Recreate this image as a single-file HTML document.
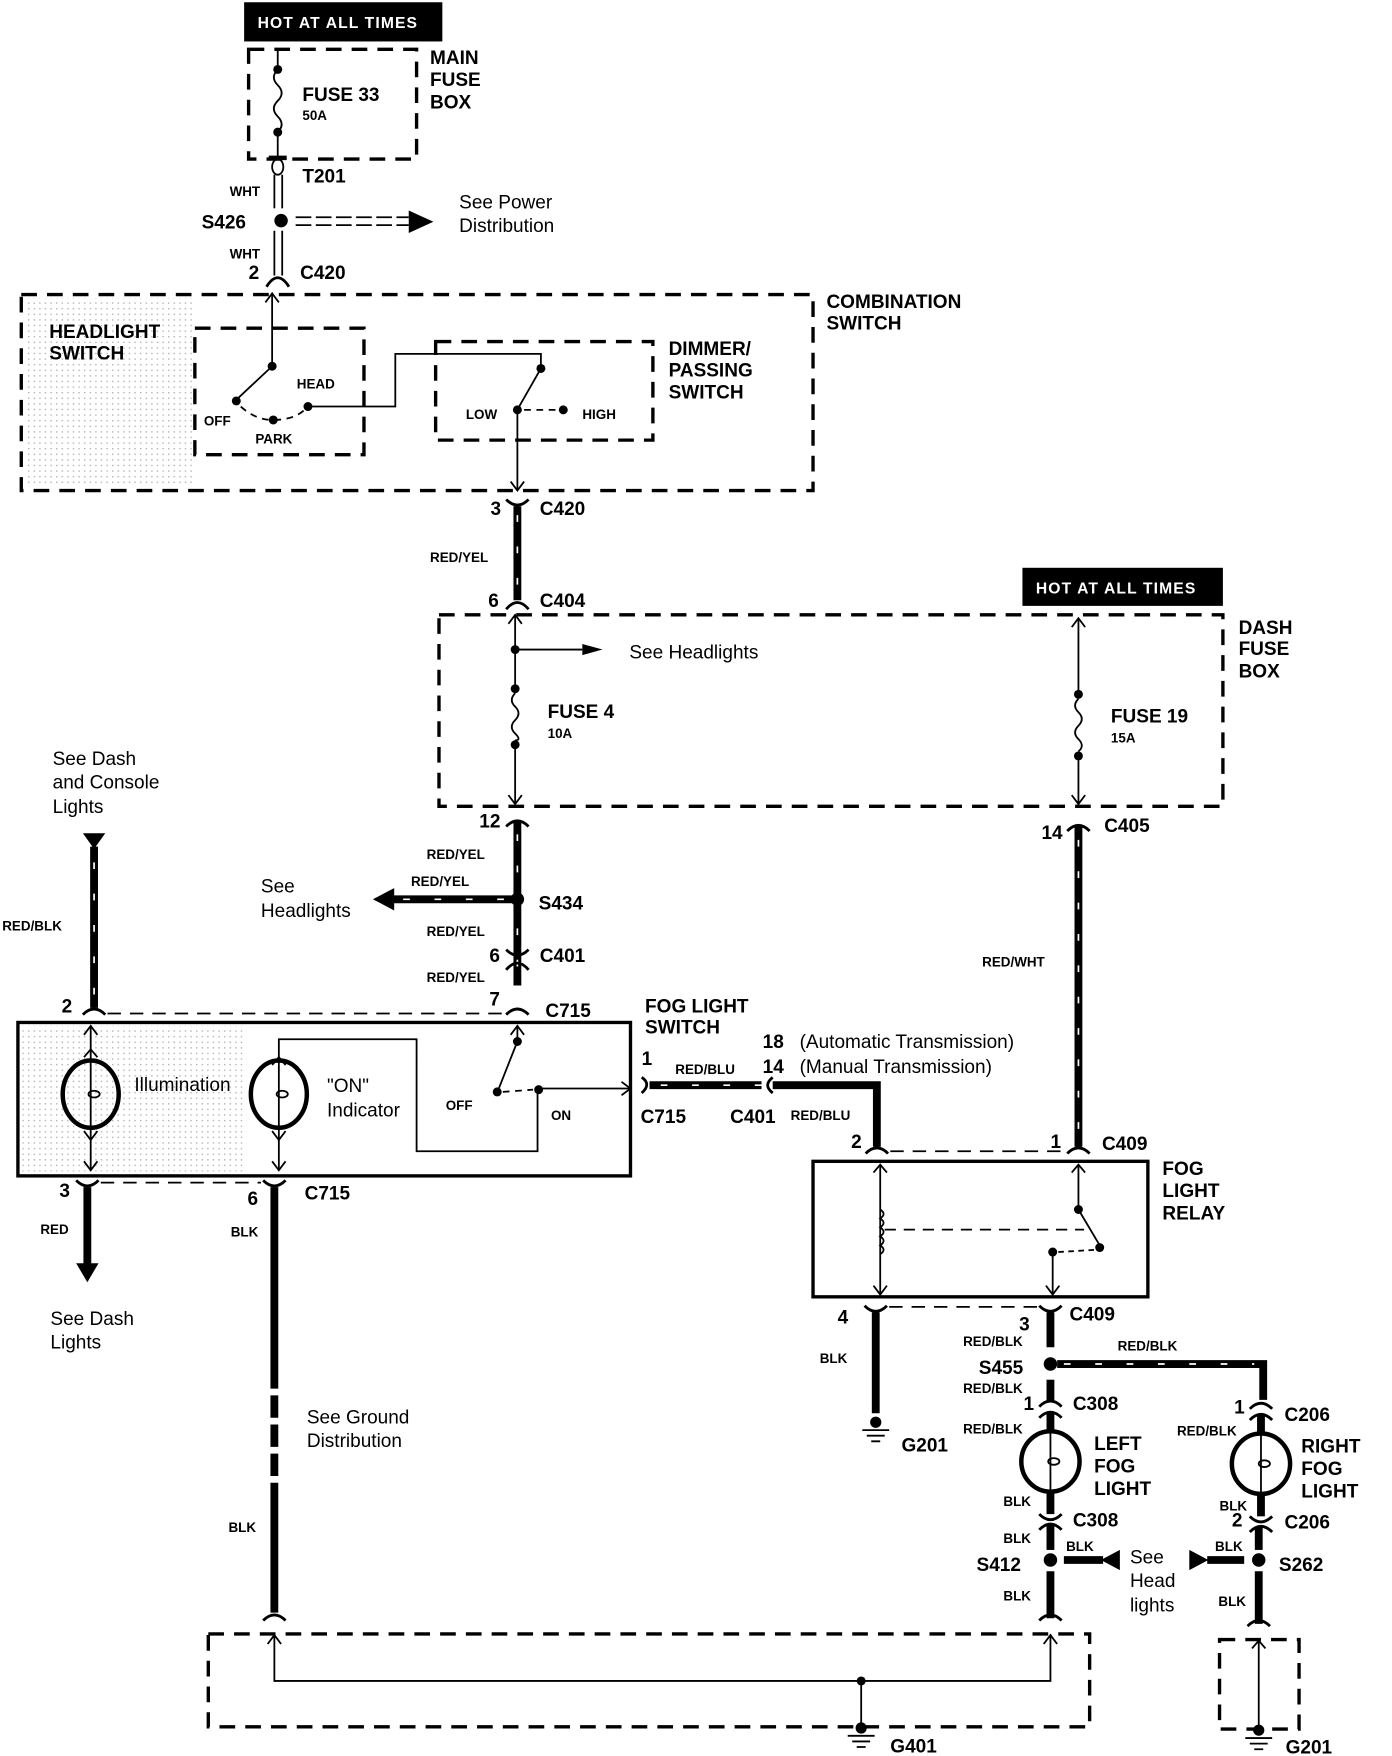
<!DOCTYPE html>
<html><head><meta charset="utf-8"><style>
html,body{margin:0;padding:0;background:#fff;}
svg{display:block;}
text{font-family:"Liberation Sans",sans-serif;fill:#000;}
.b{font-weight:bold;font-size:17px;}
.s{font-weight:bold;font-size:12px;}
.r{font-size:17px;}
.w{fill:#fff;font-weight:bold;font-size:14px;letter-spacing:1px;}
.d{fill:none;stroke:#000;stroke-width:3;stroke-dasharray:14,9;}
.t{fill:none;stroke:#000;stroke-width:1.6;}
.k{fill:none;stroke:#000;stroke-width:7;}
.m{fill:none;stroke:#fff;stroke-width:1.5;stroke-dasharray:6,22;}
.f{fill:none;stroke:#000;stroke-width:2.5;}
</style></head><body>
<svg width="1392" height="1756" viewBox="0 0 1243 1568" xmlns="http://www.w3.org/2000/svg">
<defs>
<pattern id="dots" width="5" height="5" patternUnits="userSpaceOnUse"><rect width="1.3" height="1.3" fill="#888"/></pattern>
</defs>
<!-- shading -->
<rect x="22" y="266" width="150" height="168" fill="url(#dots)" opacity="0.6"/>
<rect x="20" y="916" width="200" height="130" fill="url(#dots)" opacity="0.6"/>

<!-- HOT AT ALL TIMES 1 -->
<rect x="218" y="2" width="177" height="35" fill="#000"/>
<text x="230" y="25" class="w">HOT AT ALL TIMES</text>
<rect x="222" y="44" width="150" height="98" class="d"/>
<text x="384" y="57" class="b">MAIN</text><text x="384" y="77" class="b">FUSE</text><text x="384" y="97" class="b">BOX</text>
<line x1="248" y1="44" x2="248" y2="62" class="t"/>
<circle cx="248" cy="62" r="4"/><circle cx="248" cy="118" r="4"/>
<path d="M248 62 q-7 7 0 14 q7 7 0 14 q-7 7 0 14 q7 7 0 14" class="t"/>
<line x1="248" y1="118" x2="248" y2="140" class="t"/>
<line x1="240" y1="141" x2="256" y2="141" stroke="#000" stroke-width="4"/>
<text x="270" y="90" class="b">FUSE 33</text><text x="270" y="107" class="s">50A</text>
<ellipse cx="248" cy="149" rx="5" ry="7" class="t"/>
<line x1="245" y1="156" x2="245" y2="186" class="t"/><line x1="252" y1="156" x2="252" y2="186" class="t"/>
<text x="270" y="163" class="b">T201</text>
<text x="205" y="175" class="s">WHT</text>
<circle cx="251" cy="197" r="6"/>
<text x="180" y="204" class="b">S426</text>
<line x1="264" y1="194" x2="365" y2="194" class="t" stroke-dasharray="14,4"/>
<line x1="264" y1="201" x2="365" y2="201" class="t" stroke-dasharray="14,4"/>
<polygon points="365,188 387,198 365,208"/>
<text x="410" y="186" class="r">See Power</text><text x="410" y="207" class="r">Distribution</text>
<line x1="245" y1="206" x2="245" y2="246" class="t"/><line x1="252" y1="206" x2="252" y2="246" class="t"/>
<text x="205" y="231" class="s">WHT</text>
<text x="222" y="249" class="b">2</text><text x="268" y="249" class="b">C420</text>
<path d="M238 256 Q243 248 248 248 Q253 248 258 256" class="f"/>

<!-- Combination switch -->
<rect x="19" y="263" width="707" height="175" class="d"/>
<text x="738" y="275" class="b">COMBINATION</text><text x="738" y="294" class="b">SWITCH</text>
<text x="44" y="302" class="b">HEADLIGHT</text><text x="44" y="321" class="b">SWITCH</text>
<rect x="174" y="293" width="151" height="113" class="d"/>
<line x1="243" y1="262" x2="243" y2="326" class="t"/>
<path d="M237 270 L243 262 L249 270" class="t"/>
<circle cx="243" cy="327" r="4"/>
<line x1="243" y1="327" x2="211" y2="357" class="t" stroke-width="2"/>
<circle cx="211" cy="358" r="4"/><circle cx="244" cy="375" r="4"/><circle cx="275" cy="363" r="4"/>
<path d="M215 363 Q228 375 244 375 Q262 375 272 366" class="t" stroke-dasharray="6,5"/>
<text x="182" y="380" class="s" font-size="13">OFF</text><text x="228" y="396" class="s" font-size="13">PARK</text><text x="265" y="347" class="s" font-size="13">HEAD</text>
<polyline points="275,363 353,363 353,316 483,316 483,328" class="t"/>
<rect x="389" y="305" width="194" height="88" class="d"/>
<circle cx="483" cy="329" r="4"/>
<line x1="483" y1="329" x2="463" y2="364" class="t" stroke-width="2"/>
<circle cx="462" cy="366" r="4"/><circle cx="503" cy="366" r="4"/>
<line x1="468" y1="366" x2="498" y2="366" class="t" stroke-dasharray="6,5"/>
<text x="416" y="374" class="s" font-size="13">LOW</text><text x="520" y="374" class="s" font-size="13">HIGH</text>
<text x="597" y="317" class="b">DIMMER/</text><text x="597" y="336" class="b">PASSING</text><text x="597" y="356" class="b">SWITCH</text>
<line x1="462" y1="366" x2="462" y2="437" class="t"/>
<path d="M456 430 L462 438 L468 430" class="t"/>

<!-- C420 -> C404 -->
<path d="M452 446 Q462 456 472 446" class="f"/>
<text x="438" y="460" class="b">3</text><text x="482" y="460" class="b">C420</text>
<line x1="462" y1="452" x2="462" y2="536" class="k"/><line x1="462" y1="460" x2="462" y2="536" class="m"/>
<text x="384" y="502" class="s">RED/YEL</text>
<path d="M452 544 Q462 532 472 544" class="f"/>
<text x="436" y="542" class="b">6</text><text x="482" y="542" class="b">C404</text>

<!-- Dash fuse box -->
<rect x="913" y="507" width="179" height="34" fill="#000"/>
<text x="925" y="530" class="w">HOT AT ALL TIMES</text>
<rect x="392" y="549" width="700" height="171" class="d"/>
<text x="1106" y="566" class="b">DASH</text><text x="1106" y="585" class="b">FUSE</text><text x="1106" y="605" class="b">BOX</text>
<line x1="460" y1="550" x2="460" y2="717" class="t"/>
<path d="M454 557 L460 549 L466 557" class="t"/>
<circle cx="460" cy="580" r="4"/>
<line x1="460" y1="580" x2="520" y2="580" class="t"/><polygon points="520,575 538,580 520,585"/>
<text x="562" y="588" class="r">See Headlights</text>
<circle cx="460" cy="615" r="4"/><circle cx="460" cy="665" r="4"/>
<rect x="454" y="619" width="12" height="42" fill="#fff"/>
<path d="M460 619 q-6 6 0 12 q6 6 0 12 q-6 6 0 12 q6 6 0 6" class="t"/>
<text x="489" y="641" class="b">FUSE 4</text><text x="489" y="659" class="s">10A</text>
<path d="M454 710 L460 718 L466 710" class="t"/>
<line x1="963" y1="552" x2="963" y2="717" class="t"/>
<path d="M957 560 L963 552 L969 560" class="t"/>
<path d="M957 710 L963 718 L969 710" class="t"/>
<circle cx="963" cy="620" r="4"/><circle cx="963" cy="675" r="4"/>
<rect x="957" y="624" width="12" height="47" fill="#fff"/>
<path d="M963 624 q-6 6 0 12 q6 6 0 12 q-6 6 0 12 q6 6 0 11" class="t"/>
<text x="992" y="645" class="b">FUSE 19</text><text x="992" y="663" class="s">15A</text>

<!-- Center wire down -->
<path d="M452 738 Q462 728 472 738" class="f"/>
<text x="428" y="739" class="b">12</text>
<line x1="462" y1="734" x2="462" y2="880" class="k"/><line x1="462" y1="745" x2="462" y2="880" class="m"/>
<text x="381" y="767" class="s">RED/YEL</text>
<text x="367" y="791" class="s">RED/YEL</text>
<line x1="350" y1="803" x2="462" y2="803" class="k"/><line x1="360" y1="803" x2="460" y2="803" class="m"/>
<polygon points="352,793 333,803 352,813"/>
<circle cx="462" cy="803" r="6"/>
<text x="481" y="812" class="b">S434</text>
<text x="233" y="797" class="r">See</text><text x="233" y="819" class="r">Headlights</text>
<text x="381" y="836" class="s">RED/YEL</text>
<path d="M452 848 Q462 858 472 848" class="f"/><path d="M452 866 Q462 854 472 866" class="f"/>
<text x="437" y="859" class="b">6</text><text x="482" y="859" class="b">C401</text>
<text x="381" y="877" class="s">RED/YEL</text>
<text x="437" y="898" class="b">7</text><text x="487" y="908" class="b">C715</text>
<path d="M452 906 Q462 896 472 906" class="f"/>

<!-- Right wire C405 -->
<path d="M953 742 Q963 732 973 742" class="f"/>
<text x="930" y="749" class="b">14</text><text x="986" y="743" class="b">C405</text>
<line x1="963" y1="738" x2="963" y2="1024" class="k"/><line x1="963" y1="750" x2="963" y2="1024" class="m"/>
<text x="877" y="863" class="s">RED/WHT</text>

<!-- Left wire -->
<text x="47" y="683" class="r">See Dash</text><text x="47" y="704" class="r">and Console</text><text x="47" y="726" class="r">Lights</text>
<polygon points="74,744 94,744 84,758"/>
<line x1="84" y1="756" x2="84" y2="900" class="k"/><line x1="84" y1="770" x2="84" y2="900" class="m"/>
<text x="2" y="831" class="s">RED/BLK</text>
<text x="55" y="904" class="b">2</text>
<path d="M74 906 Q84 896 94 906" class="f"/>
<line x1="96" y1="905" x2="452" y2="905" class="t" stroke-dasharray="12,8"/>

<!-- Fog switch box -->
<rect x="16" y="913" width="547" height="137" fill="none" stroke="#000" stroke-width="3"/>
<ellipse cx="81" cy="977" rx="25" ry="30" fill="none" stroke="#000" stroke-width="4"/>
<line x1="81" y1="916" x2="81" y2="1045" class="t"/>
<path d="M75 924 L81 916 L87 924 M75 944 L81 937 L87 944 M75 1010 L81 1018 L87 1010 M75 1037 L81 1045 L87 1037" class="t"/>
<ellipse cx="84" cy="977" rx="5" ry="3" class="t"/>
<text x="120" y="974" class="r">Illumination</text>
<ellipse cx="249" cy="977" rx="25" ry="30" fill="none" stroke="#000" stroke-width="4"/>
<polyline points="249,944 249,928 372,928 372,1028 480,1028 480,972" class="t"/>
<line x1="249" y1="944" x2="249" y2="1045" class="t"/>
<path d="M243 951 L249 944 L255 951 M243 1010 L249 1018 L255 1010 M243 1037 L249 1045 L255 1037" class="t"/>
<ellipse cx="252" cy="977" rx="5" ry="3" class="t"/>
<text x="292" y="975" class="r">"ON"</text><text x="292" y="997" class="r">Indicator</text>
<line x1="462" y1="916" x2="462" y2="928" class="t"/>
<path d="M456 924 L462 916 L468 924" class="t"/>
<circle cx="462" cy="930" r="4"/>
<line x1="462" y1="930" x2="445" y2="973" class="t" stroke-width="2"/>
<circle cx="444" cy="975" r="4"/><circle cx="481" cy="973" r="4"/>
<line x1="449" y1="975" x2="476" y2="973" class="t" stroke-dasharray="6,5"/>
<line x1="481" y1="972" x2="562" y2="972" class="t"/>
<path d="M555 966 L563 972 L555 978" class="t"/>
<text x="398" y="991" class="s" font-size="13">OFF</text><text x="492" y="1000" class="s" font-size="13">ON</text>

<!-- Fog switch side -->
<text x="576" y="904" class="b">FOG LIGHT</text><text x="576" y="923" class="b">SWITCH</text>
<text x="573" y="951" class="b">1</text><text x="603" y="959" class="s">RED/BLU</text>
<path d="M573 962 Q582 968 573 976" class="f"/>
<line x1="580" y1="969" x2="680" y2="969" class="k"/><line x1="590" y1="969" x2="680" y2="969" class="m"/>
<path d="M690 962 Q681 969 690 976" class="f"/>
<text x="572" y="1003" class="b">C715</text><text x="652" y="1003" class="b">C401</text>
<text x="681" y="936" class="b">18</text><text x="714" y="936" class="r">(Automatic Transmission)</text>
<text x="681" y="958" class="b">14</text><text x="714" y="958" class="r">(Manual Transmission)</text>
<polyline points="690,969 783,969 783,1024" class="k"/>
<text x="706" y="1000" class="s">RED/BLU</text>
<text x="760" y="1025" class="b">2</text><text x="938" y="1025" class="b">1</text><text x="984" y="1027" class="b">C409</text>
<path d="M773 1030 Q783 1020 793 1030" class="f"/><path d="M953 1030 Q963 1020 973 1030" class="f"/>
<line x1="795" y1="1028" x2="951" y2="1028" class="t" stroke-dasharray="12,8"/>

<!-- Relay -->
<rect x="726" y="1037" width="299" height="121" fill="none" stroke="#000" stroke-width="3"/>
<text x="1038" y="1049" class="b">FOG</text><text x="1038" y="1069" class="b">LIGHT</text><text x="1038" y="1089" class="b">RELAY</text>
<line x1="786" y1="1040" x2="786" y2="1156" class="t"/>
<path d="M780 1047 L786 1040 L792 1047 M780 1148 L786 1156 L792 1148" class="t"/>
<path d="M786 1080 q6 4 0 8 q6 4 0 8 q6 4 0 8 q6 4 0 8 q6 4 0 8" class="t"/>
<line x1="790" y1="1098" x2="968" y2="1098" class="t" stroke-dasharray="10,7"/>
<line x1="963" y1="1040" x2="963" y2="1078" class="t"/>
<path d="M957 1047 L963 1040 L969 1047" class="t"/>
<circle cx="963" cy="1080" r="4"/>
<line x1="963" y1="1080" x2="982" y2="1112" class="t" stroke-width="2"/>
<circle cx="982" cy="1114" r="4"/>
<circle cx="940" cy="1118" r="4"/>
<line x1="945" y1="1118" x2="978" y2="1116" class="t" stroke-dasharray="5,4"/>
<line x1="940" y1="1118" x2="940" y2="1156" class="t"/>
<path d="M934 1148 L940 1156 L946 1148" class="t"/>

<!-- relay outputs -->
<path d="M772 1166 Q782 1176 792 1166" class="f"/><path d="M928 1166 Q938 1176 948 1166" class="f"/>
<line x1="794" y1="1167" x2="926" y2="1167" class="t" stroke-dasharray="12,8"/>
<text x="748" y="1182" class="b">4</text><text x="910" y="1188" class="b">3</text><text x="955" y="1179" class="b">C409</text>
<line x1="782" y1="1172" x2="782" y2="1262" class="k"/>
<text x="732" y="1217" class="s">BLK</text>
<circle cx="782" cy="1270" r="5"/>
<path d="M770 1277 H794 M774 1282 H790 M778 1287 H786" class="t"/>
<text x="805" y="1296" class="b">G201</text>
<line x1="938" y1="1172" x2="938" y2="1203" class="k"/>
<text x="860" y="1202" class="s">RED/BLK</text>
<circle cx="938" cy="1218" r="6"/>
<text x="874" y="1227" class="b">S455</text>
<text x="998" y="1206" class="s">RED/BLK</text>
<polyline points="944,1218 1128,1218 1128,1250" class="k"/><line x1="950" y1="1218" x2="1120" y2="1218" class="m"/>
<text x="860" y="1244" class="s">RED/BLK</text>
<line x1="938" y1="1232" x2="938" y2="1252" class="k"/>
<path d="M928 1256 Q938 1246 948 1256 M928 1266 Q938 1256 948 1266" class="f"/>
<text x="914" y="1259" class="b">1</text><text x="958" y="1259" class="b">C308</text>
<text x="860" y="1280" class="s">RED/BLK</text>
<line x1="938" y1="1262" x2="938" y2="1278" class="k"/>
<ellipse cx="938" cy="1305" rx="26" ry="27" fill="none" stroke="#000" stroke-width="4"/>
<line x1="938" y1="1278" x2="938" y2="1332" class="t"/><ellipse cx="941" cy="1305" rx="5" ry="3" class="t"/>
<text x="977" y="1295" class="b">LEFT</text><text x="977" y="1315" class="b">FOG</text><text x="977" y="1335" class="b">LIGHT</text>
<line x1="938" y1="1332" x2="938" y2="1352" class="k"/>
<text x="896" y="1345" class="s">BLK</text>
<path d="M928 1352 Q938 1362 948 1352 M928 1366 Q938 1356 948 1366" class="f"/>
<text x="958" y="1363" class="b">C308</text>
<line x1="938" y1="1362" x2="938" y2="1384" class="k"/>
<text x="896" y="1378" class="s">BLK</text>
<circle cx="938" cy="1393" r="6"/>
<text x="872" y="1403" class="b">S412</text>
<text x="952" y="1385" class="s">BLK</text>
<line x1="950" y1="1393" x2="985" y2="1393" class="k"/>
<polygon points="1000,1384 983,1393 1000,1402"/>
<text x="1009" y="1396" class="r">See</text><text x="1009" y="1417" class="r">Head</text><text x="1009" y="1439" class="r">lights</text>
<polygon points="1062,1384 1079,1393 1062,1402"/>
<line x1="1078" y1="1393" x2="1111" y2="1393" class="k"/>
<text x="1085" y="1385" class="s">BLK</text>
<circle cx="1124" cy="1393" r="6"/>
<text x="1142" y="1403" class="b">S262</text>
<line x1="938" y1="1403" x2="938" y2="1445" class="k"/>
<text x="896" y="1429" class="s">BLK</text>
<path d="M928 1447 Q938 1437 948 1447" class="f"/>

<!-- right fog -->
<path d="M1116 1258 Q1126 1248 1136 1258 M1116 1268 Q1126 1258 1136 1268" class="f"/>
<text x="1102" y="1262" class="b">1</text><text x="1147" y="1269" class="b">C206</text>
<text x="1051" y="1282" class="s">RED/BLK</text>
<line x1="1126" y1="1264" x2="1126" y2="1280" class="k"/>
<ellipse cx="1126" cy="1307" rx="26" ry="27" fill="none" stroke="#000" stroke-width="4"/>
<line x1="1126" y1="1280" x2="1126" y2="1334" class="t"/><ellipse cx="1129" cy="1307" rx="5" ry="3" class="t"/>
<text x="1162" y="1297" class="b">RIGHT</text><text x="1162" y="1317" class="b">FOG</text><text x="1162" y="1337" class="b">LIGHT</text>
<line x1="1126" y1="1334" x2="1126" y2="1354" class="k"/>
<text x="1089" y="1349" class="s">BLK</text>
<path d="M1116 1354 Q1126 1364 1136 1354 M1116 1368 Q1126 1358 1136 1368" class="f"/>
<text x="1100" y="1363" class="b">2</text><text x="1147" y="1365" class="b">C206</text>
<line x1="1124" y1="1364" x2="1124" y2="1384" class="k"/>
<line x1="1124" y1="1403" x2="1124" y2="1450" class="k"/>
<text x="1088" y="1434" class="s">BLK</text>
<path d="M1114 1452 Q1124 1442 1134 1452" class="f"/>

<!-- bottom left -->
<path d="M68 1054 Q78 1064 88 1054 M235 1054 Q245 1064 255 1054" class="f"/>
<line x1="90" y1="1056" x2="233" y2="1056" class="t" stroke-dasharray="12,8"/>
<text x="53" y="1069" class="b">3</text><text x="221" y="1076" class="b">6</text><text x="272" y="1071" class="b">C715</text>
<line x1="78" y1="1060" x2="78" y2="1130" class="k"/>
<polygon points="68,1128 88,1128 78,1145"/>
<text x="36" y="1102" class="s">RED</text>
<text x="45" y="1183" class="r">See Dash</text><text x="45" y="1204" class="r">Lights</text>
<line x1="245" y1="1060" x2="245" y2="1440" class="k" stroke-dasharray="180,6,20,6,20,6,20,6,400"/>
<text x="206" y="1104" class="s">BLK</text>
<text x="274" y="1271" class="r">See Ground</text><text x="274" y="1292" class="r">Distribution</text>
<text x="204" y="1368" class="s">BLK</text>
<path d="M235 1447 Q245 1437 255 1447" class="f"/>

<!-- ground boxes -->
<rect x="186" y="1459" width="787" height="83" class="d"/>
<polyline points="245,1460 245,1501 938,1501 938,1460" class="t"/>
<path d="M239 1468 L245 1460 L251 1468 M932 1468 L938 1460 L944 1468" class="t"/>
<circle cx="769" cy="1501" r="4"/>
<line x1="769" y1="1501" x2="769" y2="1540" class="t"/>
<circle cx="769" cy="1543" r="5"/>
<path d="M757 1550 H781 M761 1555 H777 M765 1560 H773" class="t"/>
<text x="795" y="1565" class="b">G401</text>
<rect x="1089" y="1464" width="71" height="80" class="d"/>
<line x1="1124" y1="1465" x2="1124" y2="1542" class="t"/>
<path d="M1118 1472 L1124 1465 L1130 1472" class="t"/>
<circle cx="1124" cy="1545" r="5"/>
<path d="M1112 1552 H1136 M1116 1557 H1132 M1120 1562 H1128" class="t"/>
<text x="1148" y="1566" class="b">G201</text>
</svg>
</body></html>
